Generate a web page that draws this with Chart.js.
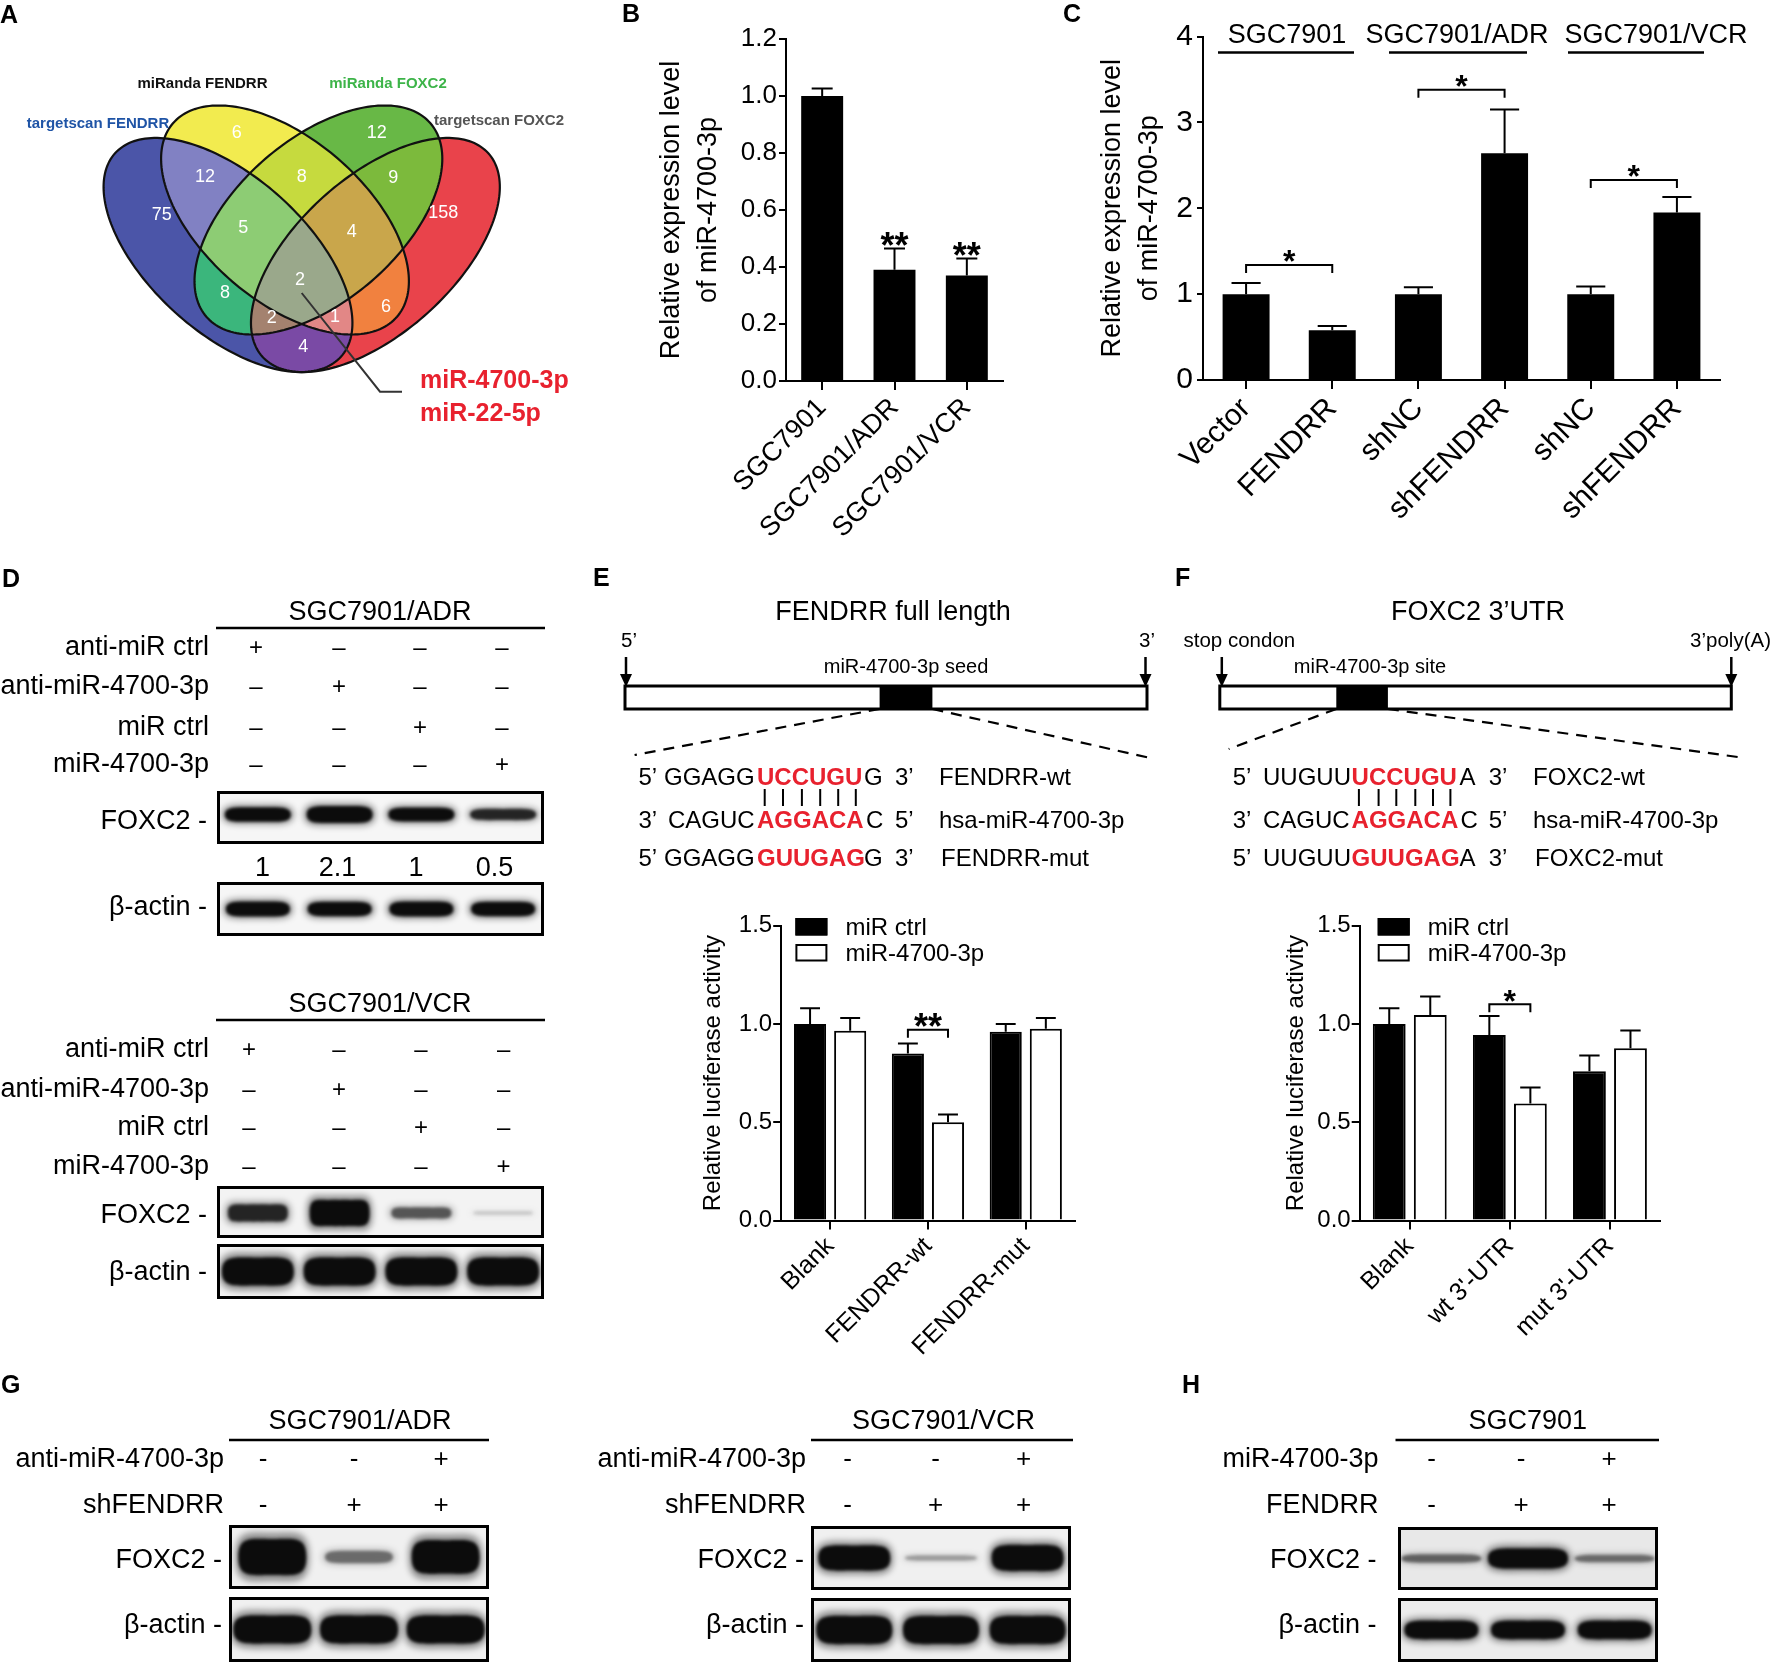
<!DOCTYPE html>
<html lang="en">
<head>
<meta charset="UTF-8">
<title>FENDRR / miR-4700-3p / FOXC2</title>
<script src="https://cdn.jsdelivr.net/npm/chart.js@4.4.1/dist/chart.umd.min.js"></script>
<style>
  html, body { margin: 0; padding: 0; background: #fff; }
  #page { position: relative; width: 1772px; height: 1662px; overflow: hidden; background: #fff; }
  .cell { position: absolute; }
  #overlay { position: absolute; left: 0; top: 0; pointer-events: none; font-family: "Liberation Sans", Arial, sans-serif; }
</style>
</head>
<body>
<div id="page">
  <div class="cell" style="left:0;top:0;width:620px;height:480px"><canvas id="venn"></canvas></div>
  <div class="cell" style="left:640px;top:0;width:370px;height:560px"><canvas id="chartB"></canvas></div>
  <div class="cell" style="left:1090px;top:0;width:682px;height:560px"><canvas id="chartC"></canvas></div>
  <div class="cell" style="left:690px;top:900px;width:390px;height:465px"><canvas id="chartE"></canvas></div>
  <div class="cell" style="left:1275px;top:900px;width:390px;height:465px"><canvas id="chartF"></canvas></div>
  <svg id="overlay" width="1772" height="1662"></svg>
</div>

<script>
// ---------- data ----------
// A: Venn, bits 1 targetscan FENDRR, 2 miRanda FENDRR, 4 miRanda FOXC2, 8 targetscan FOXC2
const vennSets = ['targetscan FENDRR', 'miRanda FENDRR', 'miRanda FOXC2', 'targetscan FOXC2'];
const vennRegions = [1, 2, 4, 8, 3, 6, 12, 7, 14, 5, 15, 10, 13, 11, 9];
const vennCounts  = [75, 6, 12, 158, 12, 8, 9, 5, 4, 8, 2, 6, 2, 1, 4];
const vennHits = ['miR-4700-3p', 'miR-22-5p'];

// B
const bLabels = ['SGC7901', 'SGC7901/ADR', 'SGC7901/VCR'];
const bMean = [1.0, 0.39, 0.37];
const bErr  = [0.026, 0.075, 0.06];
const bStars = ['', '**', '**'];

// C
const cLabels = ['Vector', 'FENDRR', 'shNC', 'shFENDRR', 'shNC', 'shFENDRR'];
const cMean = [1.0, 0.58, 1.0, 2.64, 1.0, 1.95];
const cErr  = [0.13, 0.05, 0.08, 0.51, 0.09, 0.18];
const cGroups = ['SGC7901', 'SGC7901/ADR', 'SGC7901/VCR'];
const cBrackets = [[0, 1, 1.34, '*'], [2, 3, 3.38, '*'], [4, 5, 2.33, '*']];

// E
const eLabels = ['Blank', 'FENDRR-wt', 'FENDRR-mut'];
const eCtrl = [1.0, 0.85, 0.96];
const eCtrlErr = [0.08, 0.05, 0.04];
const eMir = [0.965, 0.50, 0.975];
const eMirErr = [0.065, 0.04, 0.055];
const eBrackets = [[1, 0.97, '**']];

// F
const fLabels = ['Blank', "wt 3'-UTR", "mut 3'-UTR"];
const fCtrl = [1.0, 0.944, 0.76];
const fCtrlErr = [0.08, 0.096, 0.08];
const fMir = [1.045, 0.596, 0.876];
const fMirErr = [0.095, 0.081, 0.091];
const fBrackets = [[1, 1.10, '*']];
const seriesNames = ['miR ctrl', 'miR-4700-3p'];

// D, G, H western blots (relative band strength per lane)
const dRows = ['anti-miR ctrl', 'anti-miR-4700-3p', 'miR ctrl', 'miR-4700-3p'];
const dSigns = [['+', '–', '–', '–'], ['–', '+', '–', '–'], ['–', '–', '+', '–'], ['–', '–', '–', '+']];
const dAdrFoxc2 = [0.8, 1.0, 0.75, 0.55];
const dAdrQuant = ['1', '2.1', '1', '0.5'];
const dAdrActin = [0.9, 0.85, 0.9, 0.85];
const dVcrFoxc2 = [0.55, 1.0, 0.3, 0.03];
const dVcrActin = [1, 1, 1, 1];
const gRows = ['anti-miR-4700-3p', 'shFENDRR'];
const gSigns = [['-', '-', '+'], ['-', '+', '+']];
const gAdrFoxc2 = [1.0, 0.22, 0.9];
const gAdrActin = [1, 1, 1];
const gVcrFoxc2 = [0.85, 0.1, 0.9];
const gVcrActin = [1, 1, 1];
const hRows = ['miR-4700-3p', 'FENDRR'];
const hSigns = [['-', '-', '+'], ['-', '+', '+']];
const hFoxc2 = [0.25, 0.9, 0.22];
const hActin = [0.9, 0.9, 0.9];

// E/F sequences
const eSeq = [
  [['5’'], ['GGAGG'], ['UCCUGU', 1], ['G'], ['3’'], ['FENDRR-wt']],
  [['3’'], ['CAGUC'], ['AGGACA', 1], ['C'], ['5’'], ['hsa-miR-4700-3p']],
  [['5’'], ['GGAGG'], ['GUUGAG', 1], ['G'], ['3’'], ['FENDRR-mut']]
];
const fSeq = [
  [['5’'], ['UUGUU'], ['UCCUGU', 1], ['A'], ['3’'], ['FOXC2-wt']],
  [['3’'], ['CAGUC'], ['AGGACA', 1], ['C'], ['5’'], ['hsa-miR-4700-3p']],
  [['5’'], ['UUGUU'], ['GUUGAG', 1], ['A'], ['3’'], ['FOXC2-mut']]
];

// ---------- layout / style ----------
const FONT = '"Liberation Sans", Arial, sans-serif';
const RED = '#e8212e';
// Venn geometry, page pixels of panel A
const vennShape = [
  { cx: 228, cy: 255, a: 152, b: 78, rot: 42 },
  { cx: 285, cy: 220, a: 148, b: 81, rot: 40.8 },
  { cx: 318.4, cy: 220, a: 148, b: 81, rot: 139.2 },
  { cx: 375.4, cy: 255, a: 152, b: 78, rot: 138 }
];
const vennColors = ['#4b55a8', '#f2eb4f', '#68b846', '#e9434b', '#8181c3', '#c6da3e', '#7cba3c',
  '#8dcc74', '#c9a64b', '#3bb67c', '#9aa88b', '#f1813f', '#a4826f', '#e28786', '#7a4aa5'];
const vennCountAt = [[161.7, 215], [236.7, 133.3], [376.7, 133.3], [443.3, 213.3], [205, 176.7], [301.7, 176.7],
  [393.3, 178.3], [243.3, 228.3], [351.7, 231.7], [225, 293.3], [300, 280], [386, 306.7], [271.7, 318.3],
  [335, 316.7], [303.3, 346.7]];
const vennSetLabel = [[98, 128.3, '#1f54a6'], [202.5, 88.3, '#111'], [388, 88.3, '#3db449'], [499, 125, '#555']];
const cGroupAt = [[1287, 1218, 1354], [1457, 1389, 1527], [1656, 1568, 1704]];

Chart.defaults.font.family = FONT;
Chart.defaults.color = '#000';
Chart.defaults.animation = false;
Chart.defaults.responsive = true;
Chart.defaults.maintainAspectRatio = false;
Chart.defaults.plugins.legend.display = false;
Chart.defaults.plugins.tooltip.enabled = false;

// ---------- plugins ----------
const errorBars = {
  id: 'errorBars',
  afterDatasetsDraw(chart, args, opts) {
    const { ctx } = chart, y = chart.scales.y;
    chart.data.datasets.forEach((ds, di) => {
      if (!ds.errors) return;
      chart.getDatasetMeta(di).data.forEach((bar, i) => {
        const top = y.getPixelForValue(ds.data[i] + ds.errors[i]);
        const half = bar.width * opts.cap / 2;
        ctx.save();
        ctx.strokeStyle = '#000';
        ctx.lineWidth = 2;
        ctx.beginPath();
        ctx.moveTo(bar.x, bar.y); ctx.lineTo(bar.x, top);
        ctx.moveTo(bar.x - half, top); ctx.lineTo(bar.x + half, top);
        ctx.stroke();
        ctx.restore();
      });
    });
  }
};

const sigMarks = {
  id: 'sigMarks',
  afterDatasetsDraw(chart, args, opts) {
    const { ctx } = chart, y = chart.scales.y;
    const bar = (di, i) => chart.getDatasetMeta(di).data[i];
    (opts.marks || []).forEach(m => {
      let cx, top;
      ctx.save();
      ctx.strokeStyle = '#000';
      ctx.fillStyle = '#000';
      ctx.lineWidth = 2;
      if (m.to) {
        const a = bar(...m.from), b = bar(...m.to);
        top = y.getPixelForValue(m.y);
        ctx.beginPath();
        ctx.moveTo(a.x, top + 8); ctx.lineTo(a.x, top); ctx.lineTo(b.x, top); ctx.lineTo(b.x, top + 8);
        ctx.stroke();
        cx = (a.x + b.x) / 2;
      } else {
        const ds = chart.data.datasets[m.from[0]], i = m.from[1];
        top = y.getPixelForValue(ds.data[i] + ds.errors[i]);
        cx = bar(...m.from).x;
      }
      ctx.font = `bold ${opts.size}px ${FONT}`;
      ctx.textAlign = 'center';
      ctx.textBaseline = 'alphabetic';
      ctx.fillText(m.text, cx, top - 11 + 0.57 * opts.size);
      ctx.restore();
    });
  }
};

// group captions over panel C, positions given in page pixels
const groupLabels = {
  id: 'groupLabels',
  afterDatasetsDraw(chart, args, opts) {
    if (!opts.groups) return;
    const { ctx, chartArea } = chart;
    const off = chart.canvas.getBoundingClientRect().left - document.getElementById('page').getBoundingClientRect().left;
    opts.groups.forEach((g, k) => {
      const [cx, l, r] = opts.at[k];
      ctx.save();
      ctx.strokeStyle = '#000';
      ctx.lineWidth = 2.7;
      ctx.beginPath(); ctx.moveTo(l - off, chartArea.top + 16); ctx.lineTo(r - off, chartArea.top + 16); ctx.stroke();
      ctx.font = `${opts.size}px ${FONT}`;
      ctx.fillStyle = '#000';
      ctx.textAlign = 'center';
      ctx.fillText(g, cx - off, chartArea.top + 6.5);
      ctx.restore();
    });
  }
};

const boxLegend = {
  id: 'boxLegend',
  afterDraw(chart, args, opts) {
    if (!opts.dx) return;
    const { ctx, chartArea } = chart;
    chart.data.datasets.forEach((ds, k) => {
      const x = chartArea.left + opts.dx, y = chartArea.top - 7.6 + k * 26;
      ctx.save();
      ctx.fillStyle = ds.backgroundColor;
      ctx.strokeStyle = '#000';
      ctx.lineWidth = 2;
      ctx.fillRect(x, y, 32, 17.5);
      ctx.strokeRect(x + 1, y + 1, 30, 15.5);
      ctx.font = `24px ${FONT}`;
      ctx.fillStyle = '#000';
      ctx.fillText(ds.label, chartArea.left + opts.textDx, y + 17);
      ctx.restore();
    });
  }
};

// band outline with slightly tapered ends, appended to the current path
function lensPath(ctx, cx, cy, w, t) {
  ctx.moveTo(cx - w / 2, cy);
  ctx.bezierCurveTo(cx - w / 2, cy - t * 0.6, cx - w * 0.3, cy - t / 2, cx, cy - t / 2);
  ctx.bezierCurveTo(cx + w * 0.3, cy - t / 2, cx + w / 2, cy - t * 0.6, cx + w / 2, cy);
  ctx.bezierCurveTo(cx + w / 2, cy + t * 0.6, cx + w * 0.3, cy + t / 2, cx, cy + t / 2);
  ctx.bezierCurveTo(cx - w * 0.3, cy + t / 2, cx - w / 2, cy + t * 0.6, cx - w / 2, cy);
  ctx.closePath();
}
function band(ctx, cx, cy, w, t, waist) {
  ctx.beginPath();
  if (waist) {
    // dumbbell-shaped band: heavier at both ends, filled as one shape
    lensPath(ctx, cx - w * 0.19, cy, w * 0.62, t);
    lensPath(ctx, cx + w * 0.19, cy, w * 0.62, t);
    lensPath(ctx, cx, cy, w * 0.85, t * (1 - waist));
  } else {
    lensPath(ctx, cx, cy, w, t);
  }
  ctx.fill('nonzero');
}

const blot = {
  id: 'blot',
  beforeDatasetsDraw(chart, args, o) {
    const { ctx, chartArea: a } = chart;
    const mid = chart.scales.y.getPixelForValue(0.5) + (o.dy || 0);
    ctx.save();
    ctx.fillStyle = o.bg;
    ctx.fillRect(a.left, a.top, a.right - a.left, a.bottom - a.top);
    chart.getDatasetMeta(0).data.forEach((bar, i) => {
      const v = chart.data.datasets[0].data[i];
      const t = Math.max(4, o.thick * Math.pow(v, 0.7));
      const alpha = Math.min(1, 1.2 * Math.pow(v, 0.6));
      const w = o.band;
      ctx.filter = 'blur(3px)';
      ctx.fillStyle = `rgba(0,0,0,${alpha * 0.4})`;
      band(ctx, bar.x, mid, w + 6, t * 1.35, o.waist);
      ctx.filter = 'blur(1.6px)';
      ctx.fillStyle = `rgba(12,12,12,${alpha})`;
      band(ctx, bar.x, mid, w, t, o.waist);
    });
    ctx.restore();
  },
  afterDraw(chart) {
    const { ctx, chartArea: a } = chart;
    ctx.save();
    ctx.strokeStyle = '#000';
    ctx.lineWidth = 3;
    ctx.strokeRect(a.left + 1.5, a.top + 1.5, a.right - a.left - 3, a.bottom - a.top - 3);
    ctx.restore();
  }
};

const venn = {
  id: 'venn',
  afterDraw(chart) {
    const { ctx, scales: { x, y } } = chart;
    const W = chart.width, H = chart.height;
    const px = v => x.getPixelForValue(v), py = v => y.getPixelForValue(v);
    const paths = vennShape.map(e => {
      const p = new Path2D(), r = e.rot * Math.PI / 180;
      for (let k = 0; k <= 200; k++) {
        const t = k / 200 * 2 * Math.PI;
        const X = e.cx + e.a * Math.cos(t) * Math.cos(r) - e.b * Math.sin(t) * Math.sin(r);
        const Y = e.cy + e.a * Math.cos(t) * Math.sin(r) + e.b * Math.sin(t) * Math.cos(r);
        if (k) p.lineTo(px(X), py(Y)); else p.moveTo(px(X), py(Y));
      }
      p.closePath();
      return p;
    });
    vennRegions.forEach((mask, i) => {
      ctx.save();
      paths.forEach((p, s) => {
        if (mask & (1 << s)) ctx.clip(p);
        else {
          const q = new Path2D();
          q.rect(0, 0, W, H);
          q.addPath(p);
          ctx.clip(q, 'evenodd');
        }
      });
      ctx.fillStyle = vennColors[i];
      ctx.fillRect(0, 0, W, H);
      ctx.restore();
    });
    ctx.save();
    ctx.strokeStyle = '#111';
    ctx.lineWidth = 2.2;
    paths.forEach(p => ctx.stroke(p));
    ctx.fillStyle = '#fff';
    ctx.font = `18px ${FONT}`;
    ctx.textAlign = 'center';
    ctx.textBaseline = 'middle';
    vennCounts.forEach((n, i) => ctx.fillText(String(n), px(vennCountAt[i][0]), py(vennCountAt[i][1])));
    ctx.font = `bold 15px ${FONT}`;
    ctx.textBaseline = 'alphabetic';
    vennSets.forEach((s, i) => {
      const [X, Y, c] = vennSetLabel[i];
      ctx.fillStyle = c;
      ctx.fillText(s, px(X), py(Y));
    });
    ctx.strokeStyle = '#333';
    ctx.lineWidth = 2;
    ctx.beginPath();
    ctx.moveTo(px(301.7), py(293));
    ctx.lineTo(px(380), py(391.7));
    ctx.lineTo(px(402), py(391.7));
    ctx.stroke();
    ctx.fillStyle = RED;
    ctx.font = `bold 25px ${FONT}`;
    ctx.textAlign = 'left';
    vennHits.forEach((s, i) => ctx.fillText(s, px(420), py([388, 421][i])));
    ctx.restore();
  }
};

// ---------- axes helpers ----------
function axisX(size, h, tick) {
  return {
    grid: { display: true, drawOnChartArea: false, offset: false, tickLength: tick, color: '#000', lineWidth: 2 },
    border: { display: true, color: '#000', width: 2 },
    ticks: { autoSkip: false, minRotation: 45, maxRotation: 45, padding: 2, font: { size } },
    afterFit: s => { s.height = h; }
  };
}
function axisY(o) {
  return {
    min: 0, max: o.max,
    ticks: { stepSize: o.step, padding: o.pad, font: { size: o.size }, callback: o.fmt },
    grid: { display: true, drawOnChartArea: false, tickLength: o.tick, color: '#000', lineWidth: 2 },
    border: { display: true, color: '#000', width: 2 },
    title: { display: true, text: o.title, font: { size: o.tsize, lineHeight: o.lh }, padding: { top: o.tpad, bottom: 0 } },
    afterFit: s => { s.width = o.w; }
  };
}

// ---------- A ----------
new Chart(document.getElementById('venn'), {
  type: 'scatter',
  data: { datasets: [{ data: [] }] },
  options: {
    layout: { padding: 0 },
    scales: {
      x: { type: 'linear', display: false, min: 0, max: 620 },
      y: { type: 'linear', display: false, min: 0, max: 480, reverse: true }
    }
  },
  plugins: [venn]
});

// ---------- B ----------
new Chart(document.getElementById('chartB'), {
  type: 'bar',
  data: { labels: bLabels, datasets: [{ data: bMean, errors: bErr, backgroundColor: '#000', borderWidth: 0, categoryPercentage: 1, barPercentage: 0.58 }] },
  options: {
    layout: { padding: { top: 39, right: 7, left: 0, bottom: 0 } },
    scales: {
      x: axisX(27, 179, 9),
      y: axisY({ max: 1.2, step: 0.2, pad: 2, size: 26, tick: 7, fmt: v => v.toFixed(1),
        title: ['Relative expression level', 'of miR-4700-3p'], tsize: 27, lh: 1.37, tpad: 13.5, w: 146 })
    },
    plugins: {
      errorBars: { cap: 0.5 },
      sigMarks: { size: 36, marks: bStars.map((s, i) => ({ from: [0, i], text: s })).filter(m => m.text) }
    }
  },
  plugins: [errorBars, sigMarks]
});

// ---------- C ----------
new Chart(document.getElementById('chartC'), {
  type: 'bar',
  data: { labels: cLabels, datasets: [{ data: cMean, errors: cErr, backgroundColor: '#000', borderWidth: 0, categoryPercentage: 1, barPercentage: 0.545 }] },
  options: {
    layout: { padding: { top: 36.5, right: 52, left: 0, bottom: 0 } },
    scales: {
      x: axisX(30, 180, 9),
      y: axisY({ max: 4, step: 1, pad: 4, size: 30, tick: 6, fmt: v => v,
        title: ['Relative expression level', 'of miR-4700-3p'], tsize: 27, lh: 1.37, tpad: 4.5, w: 113 })
    },
    plugins: {
      errorBars: { cap: 0.62 },
      sigMarks: { size: 32, marks: cBrackets.map(([a, b, lvl, s]) => ({ from: [0, a], to: [0, b], y: lvl, text: s })) },
      groupLabels: { groups: cGroups, at: cGroupAt, size: 27 }
    }
  },
  plugins: [errorBars, sigMarks, groupLabels]
});

// ---------- E, F ----------
function lucChart(id, labels, ctrl, ctrlErr, mir, mirErr, brackets, o) {
  return new Chart(document.getElementById(id), {
    type: 'bar',
    data: {
      labels,
      datasets: [
        { label: seriesNames[0], data: ctrl, errors: ctrlErr, backgroundColor: '#000', borderColor: '#000', borderWidth: 2, categoryPercentage: 0.82, barPercentage: 0.8 },
        { label: seriesNames[1], data: mir, errors: mirErr, backgroundColor: '#fff', borderColor: '#000', borderWidth: 2, categoryPercentage: 0.82, barPercentage: 0.8 }
      ]
    },
    options: {
      layout: { padding: { top: 25.6, right: o.right, left: 0, bottom: 0 } },
      scales: {
        x: axisX(25, 144.4, 9),
        y: axisY({ max: 1.5, step: 0.5, pad: 1, size: 24, tick: 8, fmt: v => v.toFixed(1),
          title: 'Relative luciferase activity', tsize: 24, lh: 1.2, tpad: o.tpad, w: o.w })
      },
      plugins: {
        errorBars: { cap: 0.62 },
        sigMarks: { size: o.star, marks: brackets.map(([i, lvl, s]) => ({ from: [0, i], to: [1, i], y: lvl, text: s })) },
        boxLegend: { dx: o.legendDx, textDx: o.legendDx + 50 }
      }
    },
    plugins: [errorBars, sigMarks, boxLegend]
  });
}
lucChart('chartE', eLabels, eCtrl, eCtrlErr, eMir, eMirErr, eBrackets, { right: 5.3, tpad: 8.6, w: 91.2, star: 36, legendDx: 14.2 });
lucChart('chartF', fLabels, fCtrl, fCtrlErr, fMir, fMirErr, fBrackets, { right: 5, tpad: 6.6, w: 84.7, star: 32, legendDx: 18 });

// ---------- blots ----------
const blotStrips = [
  ['dAdrFoxc2', dAdrFoxc2, [217, 791, 327, 53], { band: 66, thick: 17, bg: '#f6f6f6', dy: -3 }],
  ['dAdrActin', dAdrActin, [217, 882, 327, 54], { band: 64, thick: 16, bg: '#f6f6f6' }],
  ['dVcrFoxc2', dVcrFoxc2, [217, 1186, 327, 52], { band: 60, thick: 26, bg: '#f3f3f3', waist: 0.3, dy: 1 }],
  ['dVcrActin', dVcrActin, [217, 1244, 327, 55], { band: 72, thick: 28, bg: '#f3f3f3' }],
  ['gAdrFoxc2', gAdrFoxc2, [229, 1525, 260, 64], { band: 68, thick: 36, bg: '#f0f0f0' }],
  ['gAdrActin', gAdrActin, [229, 1597, 260, 65], { band: 78, thick: 28, bg: '#f0f0f0' }],
  ['gVcrFoxc2', gVcrFoxc2, [811, 1526, 260, 64], { band: 72, thick: 28, bg: '#f0f0f0' }],
  ['gVcrActin', gVcrActin, [811, 1598, 260, 64], { band: 76, thick: 28, bg: '#f0f0f0' }],
  ['hFoxc2', hFoxc2, [1398, 1527, 260, 63], { band: 80, thick: 22, bg: '#e8e8e8' }],
  ['hActin', hActin, [1398, 1598, 260, 64], { band: 74, thick: 20, bg: '#ececec' }]
];
const page = document.getElementById('page');
blotStrips.forEach(([id, values, [l, t, w, h], style]) => {
  const box = document.createElement('div');
  box.className = 'cell';
  box.style.cssText = `left:${l}px;top:${t}px;width:${w}px;height:${h}px`;
  const cv = document.createElement('canvas');
  cv.id = id;
  box.appendChild(cv);
  page.insertBefore(box, document.getElementById('overlay'));
  new Chart(cv, {
    type: 'bar',
    data: { labels: values.map((_, i) => 'lane ' + (i + 1)), datasets: [{ data: values, backgroundColor: 'rgba(0,0,0,0)', borderWidth: 0, categoryPercentage: 1, barPercentage: 1 }] },
    options: {
      layout: { padding: 0 },
      scales: { x: { display: false }, y: { display: false, min: 0, max: 1 } },
      plugins: { blot: style }
    },
    plugins: [blot]
  });
});

// ---------- overlay: letters, blot labels, constructs ----------
const NS = 'http://www.w3.org/2000/svg';
const svg = document.getElementById('overlay');
function el(tag, attrs, parent = svg) {
  const e = document.createElementNS(NS, tag);
  for (const k in attrs) e.setAttribute(k, attrs[k]);
  parent.appendChild(e);
  return e;
}
function text(x, y, s, o = {}) {
  const t = el('text', { x, y, 'font-size': o.size || 27, 'font-weight': o.bold ? 'bold' : 'normal', fill: o.color || '#000', 'text-anchor': o.anchor || 'start' });
  t.textContent = s;
  return t;
}
function seg(x1, y1, x2, y2, w, dash) {
  const a = { x1, y1, x2, y2, stroke: '#000', 'stroke-width': w };
  if (dash) a['stroke-dasharray'] = dash;
  el('line', a);
}

[['A', 0, 23], ['B', 622, 22], ['C', 1063, 22], ['D', 2, 587], ['E', 593, 586], ['F', 1175, 586], ['G', 1, 1393], ['H', 1182, 1393]]
  .forEach(([s, x, y]) => text(x, y, s, { size: 25, bold: true }));

function westernBlock(b) {
  text(b.cx, b.titleY, b.title, { anchor: 'middle' });
  seg(b.x1, b.lineY, b.x2, b.lineY, 2.5);
  b.rows.forEach((r, i) => {
    text(b.right, b.rowY[i], r, { anchor: 'end' });
    b.signs[i].forEach((s, j) => text(b.cols[j], b.rowY[i], s, { anchor: 'middle', size: b.signSize }));
  });
  text(b.right - 2, b.foxY, 'FOXC2 -', { anchor: 'end' });
  text(b.right - 2, b.actY, 'β-actin -', { anchor: 'end' });
}
westernBlock({ title: 'SGC7901/ADR', cx: 380, titleY: 620, x1: 216, x2: 545, lineY: 628, rows: dRows, signs: dSigns,
  rowY: [655, 694, 735, 772], right: 209, cols: [256, 339, 420, 502], signSize: 24, foxY: 828.5, actY: 915 });
dAdrQuant.forEach((q, i) => text([262.5, 337.5, 416, 494.6][i], 876, q, { anchor: 'middle' }));
westernBlock({ title: 'SGC7901/VCR', cx: 380, titleY: 1012, x1: 216, x2: 545, lineY: 1020, rows: dRows, signs: dSigns,
  rowY: [1057, 1097, 1134.5, 1174], right: 209, cols: [249, 339, 421, 503.6], signSize: 24, foxY: 1222.6, actY: 1280 });
westernBlock({ title: 'SGC7901/ADR', cx: 360, titleY: 1429, x1: 229, x2: 489, lineY: 1440, rows: gRows, signs: gSigns,
  rowY: [1467, 1513], right: 224, cols: [263, 354, 441], signSize: 26, foxY: 1568, actY: 1633 });
westernBlock({ title: 'SGC7901/VCR', cx: 943.5, titleY: 1429, x1: 811, x2: 1073, lineY: 1440, rows: gRows, signs: gSigns,
  rowY: [1467, 1513], right: 806, cols: [847.5, 935.6, 1023.7], signSize: 26, foxY: 1568, actY: 1633 });
westernBlock({ title: 'SGC7901', cx: 1527.7, titleY: 1429, x1: 1395.5, x2: 1659, lineY: 1440, rows: hRows, signs: hSigns,
  rowY: [1467, 1513], right: 1378.5, cols: [1431.6, 1521, 1609], signSize: 26, foxY: 1568, actY: 1633 });

const seqY = [785, 827.6, 866];
function construct(d) {
  text(d.titleX, 619.6, d.title, { anchor: 'middle' });
  d.ends.forEach(([s, x, anchor]) => text(x, 647, s, { size: 20.5, anchor }));
  d.arrows.forEach(x => {
    seg(x, 657, x, 676, 2.5);
    el('polygon', { points: `${x - 6},674 ${x + 6},674 ${x},687`, fill: '#000' });
  });
  text(d.siteX, 673, d.site, { size: 20, anchor: 'middle' });
  el('rect', { x: d.x1, y: 686, width: d.x2 - d.x1, height: 23, fill: '#fff', stroke: '#000', 'stroke-width': 3 });
  el('rect', { x: d.s1, y: 686, width: d.s2 - d.s1, height: 23, fill: '#000' });
  seg(d.s1, 709, d.dl[0], d.dl[1], 2.2, '11 8');
  seg(d.s2, 709, d.dr[0], d.dr[1], 2.2, '11 8');
  d.seq.forEach((row, r) => {
    const t = el('text', { y: seqY[r], 'font-size': 24, fill: '#000' });
    row.forEach(([s, red], k) => {
      const sp = el('tspan', { x: d.cols[r][k] }, t);
      if (red) { sp.setAttribute('fill', RED); sp.setAttribute('font-weight', 'bold'); }
      sp.textContent = s;
    });
  });
  d.pipes.forEach(x => seg(x, 789, x, 806, 2));
}
construct({ title: 'FENDRR full length', titleX: 893, ends: [['5’', 621, 'start'], ['3’', 1155, 'end']], arrows: [626, 1145.5],
  site: 'miR-4700-3p seed', siteX: 906, x1: 625, x2: 1147, s1: 879.6, s2: 932.4, dl: [634.6, 755], dr: [1147.5, 757.4],
  seq: eSeq, cols: [[638.5, 664, 757, 864, 895, 939], [638.5, 668, 757, 866, 895, 939], [638.5, 664, 757, 864, 895, 941]],
  pipes: [764.7, 783, 801.9, 820.2, 838.2, 855.8] });
construct({ title: 'FOXC2 3’UTR', titleX: 1478, ends: [['stop condon', 1183.5, 'start'], ['3’poly(A)', 1771, 'end']], arrows: [1221.8, 1731.3],
  site: 'miR-4700-3p site', siteX: 1370, x1: 1219.8, x2: 1731.3, s1: 1336.3, s2: 1387.9, dl: [1228.7, 749], dr: [1740.6, 757.4],
  seq: fSeq, cols: [[1232.7, 1263, 1351.6, 1459.6, 1488.7, 1533], [1232.7, 1263, 1351.6, 1460.4, 1488.7, 1533], [1232.7, 1263, 1351.6, 1459.6, 1488.7, 1535]],
  pipes: [1358.9, 1378.6, 1396.3, 1415.3, 1433, 1450.4] });
</script>
</body>
</html>
